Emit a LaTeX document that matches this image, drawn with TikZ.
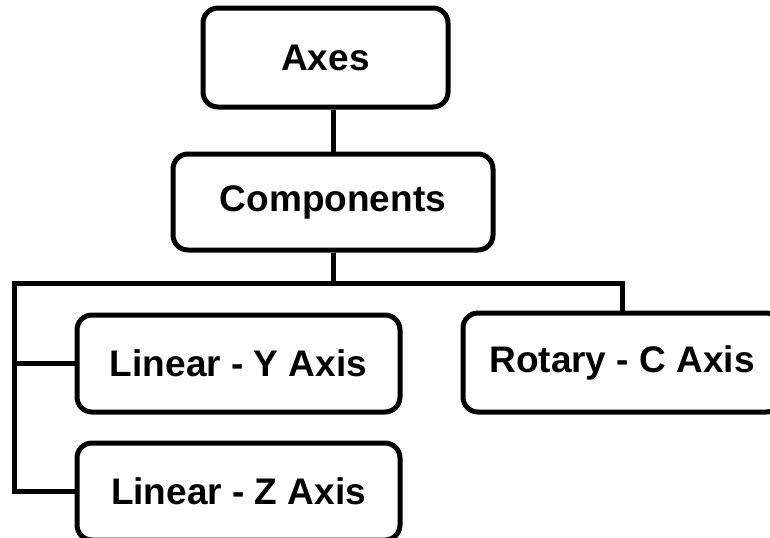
\documentclass[tikz,border=0pt]{standalone}
\usepackage{fontspec}
\setmainfont{Liberation Sans}
\usetikzlibrary{positioning,calc}
\tikzset{
	axbox/.style={draw,rounded corners=7.5pt,line width=2.5pt,fill=white,inner sep=0pt,font=\fontsize{18.5}{22}\selectfont\bfseries, text centered},
	link/.style={draw,line width=2.5pt,color=black}
}
\begin{document}
\begin{tikzpicture}[x=0.5pt,y=-0.5pt]
	\useasboundingbox (0,0) rectangle (770,537);
	\clip (0,0) rectangle (770,537);
	
	%%Top of the tree
	\node[axbox,minimum width=122.5pt,minimum height=49.5pt] (axes) at (325.5,57.5) {Axes};
	\node[axbox,minimum width=160pt,minimum height=48pt] (comp) at (333,202) {Components};
	
	%%Linear axes
	\node[axbox,minimum width=161.5pt,minimum height=48.5pt] (liny) at (238.5,363.5) {Linear - Y Axis};
	\node[axbox,minimum width=161.5pt,minimum height=48.5pt] (linz) at (238.5,491.5) {Linear - Z Axis};
	
	%%Rotary axis
	\node[axbox,minimum width=159pt,minimum height=49.5pt] (rotc) at (622,362.5) {Rotary - C Axis};
	
	%%bus line
	\coordinate (busl) at (14,283);
	
	%%edges
	\draw[link] (comp.north) -- (comp.north |- axes.south);
	\draw[link] (comp.south) -- (comp.south |- busl);
	\draw[link] (rotc.north) |- (busl) -- (busl |- linz.west) -- (linz.west);
	\draw[link] (busl |- liny.west) -- (liny.west);
	
\end{tikzpicture}
\end{document}
